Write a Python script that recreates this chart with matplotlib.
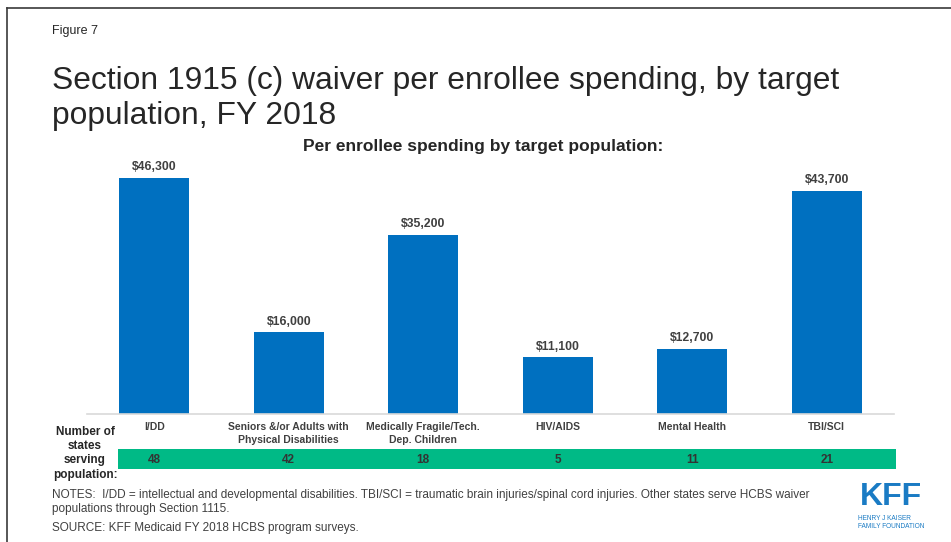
import numpy as np
import matplotlib
matplotlib.use('Agg')
import matplotlib.pyplot as plt
from matplotlib.lines import Line2D
from matplotlib import transforms

plt.rcParams['font.family'] = ['Liberation Sans', 'DejaVu Sans']

# Data
categories = ['I/DD', 'Seniors &/or Adults with\nPhysical Disabilities',
              'Medically Fragile/Tech.\nDep. Children', 'HIV/AIDS',
              'Mental Health', 'TBI/SCI']
spending = [46300, 16000, 35200, 11100, 12700, 43700]
num_states = [48, 42, 18, 5, 11, 21]

BAR = '#0070C0'
GREEN = '#00BA86'
DARK = '#404040'

W, H = 951, 542
fig = plt.figure(figsize=(W / 100, H / 100), dpi=100)
fig.patch.set_facecolor('white')

def px(x, y):
    return x / W, 1 - y / H

# frame lines (left and top)
fig.add_artist(Line2D([7 / W, 7 / W], [0, 1 - 8 / H], color='#3a3a3a', lw=1.2))
fig.add_artist(Line2D([7 / W, 1], [1 - 8 / H, 1 - 8 / H], color='#3a3a3a', lw=1.2))

# main axes
ax_l, ax_r, ax_t, ax_b = 87, 894, 150, 414
ax = fig.add_axes([ax_l / W, 1 - ax_b / H, (ax_r - ax_l) / W, (ax_b - ax_t) / H])
x = np.arange(len(categories))
ax.bar(x, spending, width=0.52, color=BAR)
ax.set_xlim(-0.5, len(categories) - 0.5)
ax.set_ylim(0, 51800)
for s in ['top', 'right', 'left']:
    ax.spines[s].set_visible(False)
ax.spines['bottom'].set_color('#D9D9D9')
ax.spines['bottom'].set_linewidth(1.2)
ax.set_xticks([])
ax.set_yticks([])
ax.patch.set_alpha(0)

for xi, v in zip(x, spending):
    ax.annotate('${:,}'.format(v), (xi, v), xytext=(0, 3.5), textcoords='offset points',
                ha='center', va='bottom', fontsize=8.8, fontweight='bold', color=DARK)

# category labels
lab_trans = transforms.blended_transform_factory(ax.transData, fig.transFigure)
for xi, c in zip(x, categories):
    fig.text(xi, 1 - 422 / H, c, transform=lab_trans, ha='center', va='top',
             fontsize=7.5, fontweight='bold', color=DARK, linespacing=1.35)

# green band with number of states
band = fig.add_axes([118 / W, 1 - 469 / H, (896 - 118) / W, 20 / H])
band.set_facecolor(GREEN)
band.set_xticks([])
band.set_yticks([])
for s in band.spines.values():
    s.set_visible(False)
band_trans = transforms.blended_transform_factory(ax.transData, band.transAxes)
for xi, n in zip(x, num_states):
    band.text(xi, 0.45, str(n), transform=band_trans, ha='center', va='center',
              fontsize=8.5, fontweight='bold', color='#333333')

fig.text(*px(85, 426), 'Number of\nstates\nserving\npopulation:', ha='center', va='top',
         fontsize=8.5, fontweight='bold', color='#262626', linespacing=1.25)

# titles
fig.text(*px(52, 31), 'Figure 7', ha='left', va='center', fontsize=9, color='#262626')
fig.text(*px(52, 66), 'Section 1915 (c) waiver per enrollee spending, by target\npopulation, FY 2018',
         ha='left', va='top', fontsize=22.9, color='#262626', linespacing=1.22)
fig.text(*px(483, 147), 'Per enrollee spending by target population:', ha='center', va='center',
         fontsize=12.5, fontweight='bold', color='#262626')

# notes
fig.text(*px(52, 489), 'NOTES:  I/DD = intellectual and developmental disabilities. TBI/SCI = traumatic brain injuries/spinal cord injuries. '
         'Other states serve HCBS waiver\npopulations through Section 1115.',
         ha='left', va='top', fontsize=8.5, color=DARK, linespacing=1.25)
fig.text(*px(52, 528), 'SOURCE: KFF Medicaid FY 2018 HCBS program surveys.', ha='left', va='center',
         fontsize=8.5, color=DARK)

# logo
fig.text(*px(891, 497), 'KFF', ha='center', va='center', fontsize=23, fontweight='bold',
         color='#1A7BC4', family=['Liberation Sans Narrow', 'Liberation Sans'])
fig.text(*px(858, 522), 'HENRY J KAISER\nFAMILY FOUNDATION', ha='left', va='center', fontsize=4.7,
         color='#1A7BC4', linespacing=1.2)

fig.savefig('out.png', dpi=100, facecolor='white')
